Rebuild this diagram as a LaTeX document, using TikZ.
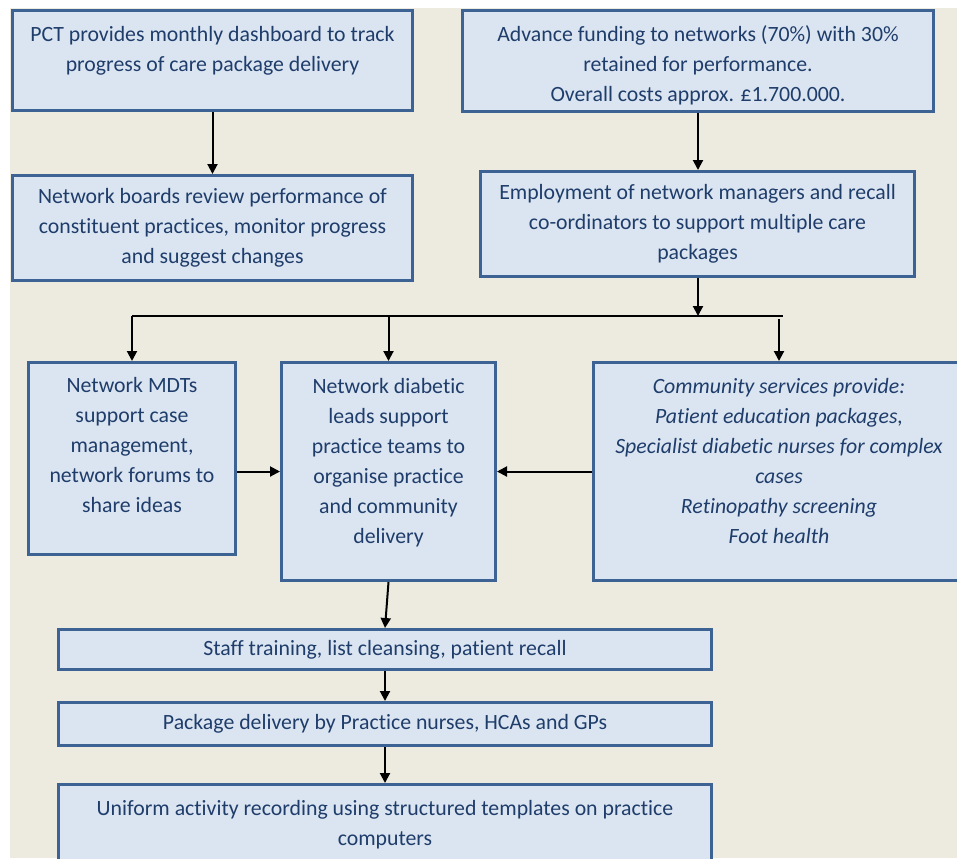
\documentclass[tikz,border=0pt]{standalone}
\usepackage{fontspec}
\setmainfont{Carlito}[Ligatures=NoCommon]
\usetikzlibrary{arrows.meta}
\definecolor{pagebg}{RGB}{237,235,224}
\definecolor{boxfill}{RGB}{219,229,241}
\definecolor{boxline}{RGB}{61,99,148}
\definecolor{boxtext}{RGB}{31,61,107}

\begin{document}
\begin{tikzpicture}[>={Triangle[length=0.2cm,width=0.2cm]}, every node/.style={align=center},
    flowbox/.style={draw=boxline,line width=0.06cm,fill=boxfill,text=boxtext,inner sep=0pt,
      font=\fontsize{12.4}{17}\selectfont},
    link/.style={->,line width=0.04cm}]
    \useasboundingbox (0,0) rectangle (19.14,-17.16);
    \fill[pagebg] (0.2,-0.16) rectangle (19.14,-17.16);

    % top row
    \node[flowbox,minimum width=8.00cm,minimum height=2.00cm] (pct) at (4.25,-1.21)
      {PCT provides monthly dashboard to track\\progress of care package delivery\\[-0.14cm]\mbox{}};
    \node[flowbox,minimum width=8.00cm,minimum height=2.10cm] (boards) at (4.25,-4.56)
      {Network boards review performance of\\constituent practices, monitor progress\\and suggest changes};
    \node[flowbox,minimum width=9.42cm,minimum height=2.02cm] (fund) at (13.96,-1.22)
      {\mbox{}\\[-0.12cm]Advance funding to networks (70\%) with 30\%\\retained for performance.\\Overall costs approx. £1.700.000.};
    \node[flowbox,minimum width=8.68cm,minimum height=2.10cm] (employ) at (13.95,-4.48)
      {Employment of network managers and recall\\co-ordinators to support multiple care\\packages};

    % middle row
    \node[flowbox,minimum width=4.14cm,minimum height=3.84cm] (mdt) at (2.64,-9.17)
      {Network MDTs\\support case\\management,\\network forums to\\share ideas\\[-0.06cm]\mbox{}};
    \node[flowbox,minimum width=4.28cm,minimum height=4.36cm] (lead) at (7.77,-9.43)
      {Network diabetic\\leads support\\practice teams to\\organise practice\\and community\\delivery\\[-0.18cm]\mbox{}};
    \node[flowbox,minimum width=7.42cm,minimum height=4.36cm,font=\fontsize{12.4}{17}\selectfont\itshape] (comm) at (15.58,-9.43)
      {Community services provide:\\Patient education packages,\\Specialist diabetic nurses for complex\\cases\\Retinopathy screening\\Foot health\\[-0.18cm]\mbox{}};

    % bottom column
    \node[flowbox,minimum width=13.06cm,minimum height=0.80cm] (staff) at (7.70,-12.99)
      {Staff training, list cleansing, patient recall};
    \node[flowbox,minimum width=13.06cm,minimum height=0.86cm] (pkg) at (7.70,-14.48)
      {Package delivery by Practice nurses, HCAs and GPs};
    \node[flowbox,minimum width=13.06cm,minimum height=1.60cm] (unif) at (7.70,-16.49)
      {Uniform activity recording using structured templates on practice\\computers};

    \coordinate (split) at (13.96,-6.32);
    \coordinate (busL) at (2.64,-6.32);
    \coordinate (busR) at (15.66,-6.32);

    \draw[link] (pct) -- (boards);
    \draw[link] (fund.south) -- (fund.south |- employ.north);
    \draw[link] (employ.south -| split) -- (split);
    \draw[line width=0.04cm] (busL) -- (busR);
    \draw[link] (busL) -- (busL |- mdt.north);
    \draw[link] (lead.north |- busL) -- (lead.north);
    \draw[link] ([yshift=-0.06cm]comm.north |- busR) -- (comm.north);
    \draw[link] (mdt.east |- lead) -- (lead.west);
    \draw[link] (comm) -- (lead);
    \draw[link] (lead.south) -- (staff.north);
    \draw[link] (staff) -- (pkg);
    \draw[link] (pkg) -- (unif);
\end{tikzpicture}
\end{document}
